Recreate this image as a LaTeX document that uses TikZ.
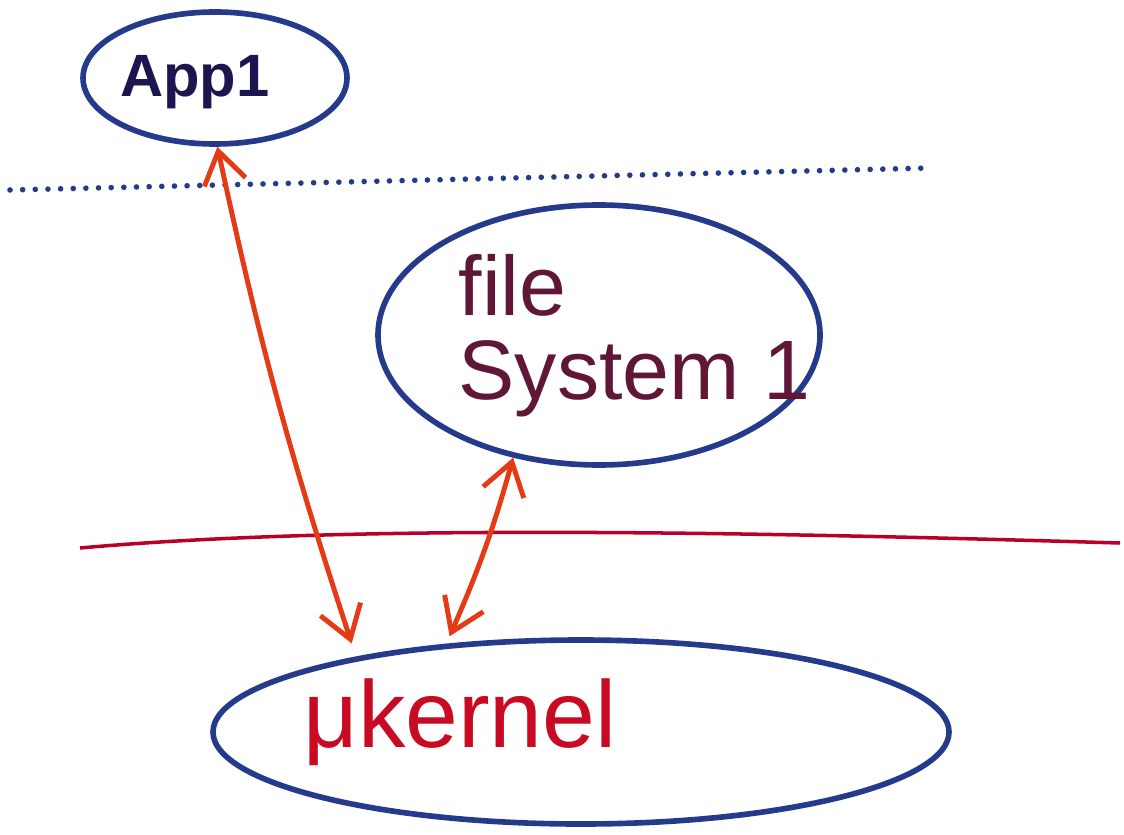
\documentclass[tikz,border=0pt]{standalone}
\usepackage{fontspec}
\setmainfont{Liberation Sans}
\usetikzlibrary{shapes.geometric,arrows.meta}

\definecolor{inkblue}{RGB}{38,58,140}
\definecolor{appink}{RGB}{28,22,80}
\definecolor{fsink}{RGB}{95,22,55}
\definecolor{kernink}{RGB}{200,10,35}
\definecolor{arrowink}{RGB}{228,58,22}
\definecolor{lineink}{RGB}{185,0,40}

\tikzset{
  bubble/.style={ellipse, draw=inkblue, line width=1.6pt, inner sep=0pt},
  callarrow/.style={draw=arrowink, line width=1.4pt,
    {Straight Barb[length=9pt,width=12pt]}-{Straight Barb[length=9pt,width=12pt]}},
  dotline/.style={draw=inkblue, line width=1.6pt, line cap=round, dash pattern=on 0pt off 3.6pt},
  boundary/.style={draw=lineink, line width=1pt}
}

\begin{document}
\begin{tikzpicture}
\useasboundingbox (0,0) rectangle (11.24,8.34);

% process bubbles
\node[bubble, minimum width=2.64cm, minimum height=1.32cm] (app) at (2.15,7.56) {};
\node[bubble, minimum width=4.42cm, minimum height=2.60cm] (fs) at (5.99,4.99) {};
\node[bubble, minimum width=7.36cm, minimum height=1.84cm] (kern) at (5.81,1.02) {};

% labels
\node[text=appink, font=\fontsize{17}{20}\selectfont\bfseries] (applbl) at (1.95,7.52) {App1};
\node[text=fsink, font=\fontsize{24}{24}\selectfont, align=left, inner sep=0pt, anchor=west] (fslbl) at (4.58,4.98)
  {file\\ System 1};
\node[text=kernink, font=\fontsize{27}{30}\selectfont] (kernlbl) at (4.60,1.12) {μkernel};

% privilege boundaries
\coordinate (d1) at (0.10,6.44);
\coordinate (d2) at (9.30,6.66);
\draw[dotline] (d1) -- (d2);
\coordinate (r1) at (0.80,2.86);
\coordinate (r2) at (11.20,2.91);
\draw[boundary] (r1) .. controls (3.5,3.10) and (7.5,3.02) .. (r2);

% communication through the kernel
\draw[callarrow] (app.272) to[bend right=3] ([yshift=4pt]kern.162);
\draw[callarrow] (fs.235) to[bend left=4] ([yshift=2pt]kern.146);
\end{tikzpicture}
\end{document}
